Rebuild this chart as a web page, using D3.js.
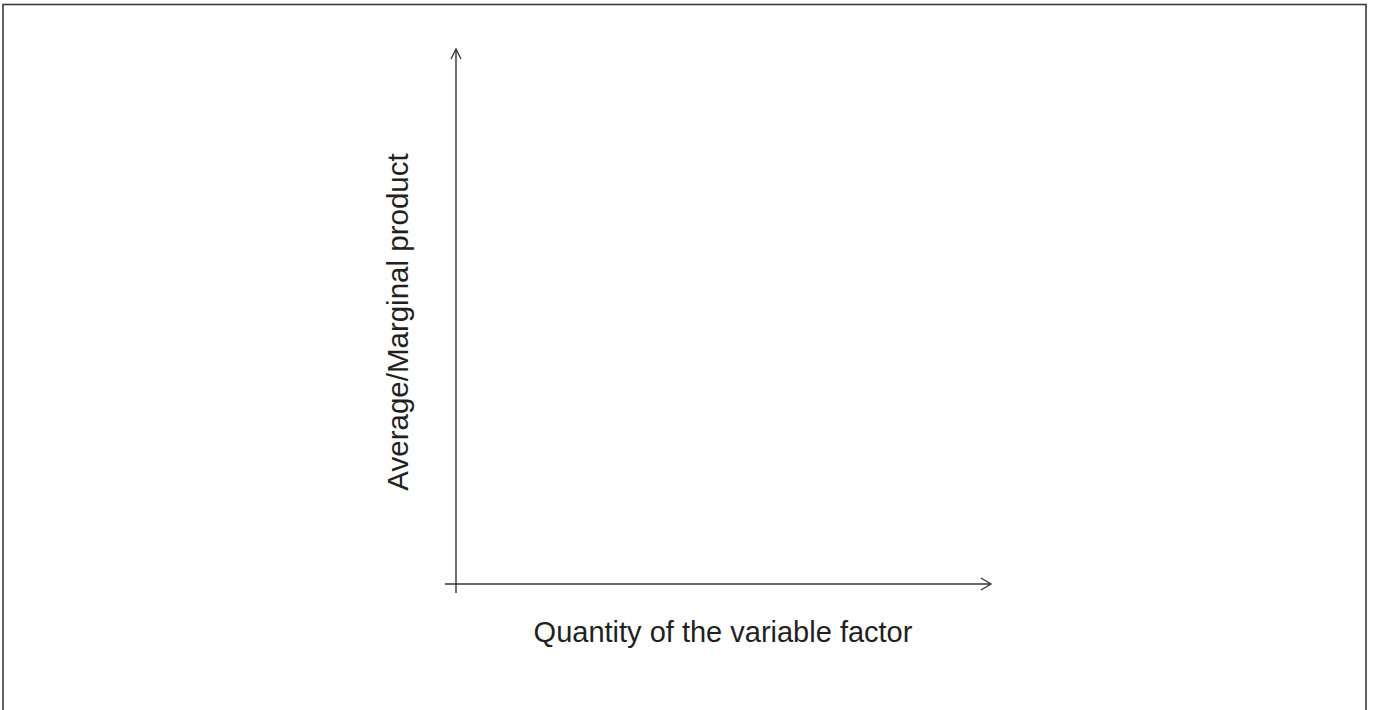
<!DOCTYPE html>
<html>
<head>
<meta charset="utf-8">
<script src="https://cdn.jsdelivr.net/npm/d3@7"></script>
<style>
  body { margin: 0; background: #fff; }
  svg { display: block; }
</style>
</head>
<body>
<div class="canvas"></div>
<script>
// axis labels and (empty) value ranges of the sketch
var xLabel = "Quantity of the variable factor";
var yLabel = "Average/Marginal product";
var xDomain = [0, 10];
var yDomain = [0, 10];

var W = 1374, H = 710;

var svg = d3.select("div.canvas")
    .append("svg")
    .attr("width", W)
    .attr("height", H);

// frame round the picture
svg.append("rect")
    .attr("x", 3)
    .attr("y", 4.5)
    .attr("width", 1363)
    .attr("height", 712)
    .attr("fill", "none")
    .attr("stroke", "#3a3a3a")
    .attr("stroke-width", 1.6);

var x = d3.scaleLinear().domain(xDomain).range([456, 991]);
var y = d3.scaleLinear().domain(yDomain).range([584, 49]);

var axisColor = "#333";

// y axis, runs a bit past the x axis
svg.append("line")
    .attr("x1", x(0)).attr("x2", x(0))
    .attr("y1", y(0) + 9).attr("y2", y(yDomain[1]))
    .attr("stroke", axisColor)
    .attr("stroke-width", 1.4);

// x axis
svg.append("line")
    .attr("x1", x(0) - 11).attr("x2", x(xDomain[1]))
    .attr("y1", y(0)).attr("y2", y(0))
    .attr("stroke", axisColor)
    .attr("stroke-width", 1.4);

// open arrow heads
function Arrow(tx, ty, dir)
{
    var pts;
    if (dir == "up")
        pts = [[tx - 5, ty + 10], [tx, ty], [tx + 5, ty + 10]];
    else
        pts = [[tx - 10, ty - 6], [tx, ty], [tx - 10, ty + 6]];
    svg.append("path")
        .attr("d", d3.line()(pts))
        .attr("fill", "none")
        .attr("stroke", axisColor)
        .attr("stroke-width", 1.3);
}
Arrow(x(0), y(yDomain[1]), "up");
Arrow(x(xDomain[1]), y(0), "right");

svg.append("text")
    .text(xLabel)
    .attr("x", 723)
    .attr("y", 642)
    .attr("text-anchor", "middle")
    .attr("font-family", "Liberation Sans, Arial, sans-serif")
    .attr("font-size", 29)
    .attr("fill", "#231f20");

svg.append("text")
    .text(yLabel)
    .attr("transform", "translate(408,322) rotate(-90)")
    .attr("text-anchor", "middle")
    .attr("font-family", "Liberation Sans, Arial, sans-serif")
    .attr("font-size", 29.5)
    .attr("fill", "#231f20");
</script>
</body>
</html>
